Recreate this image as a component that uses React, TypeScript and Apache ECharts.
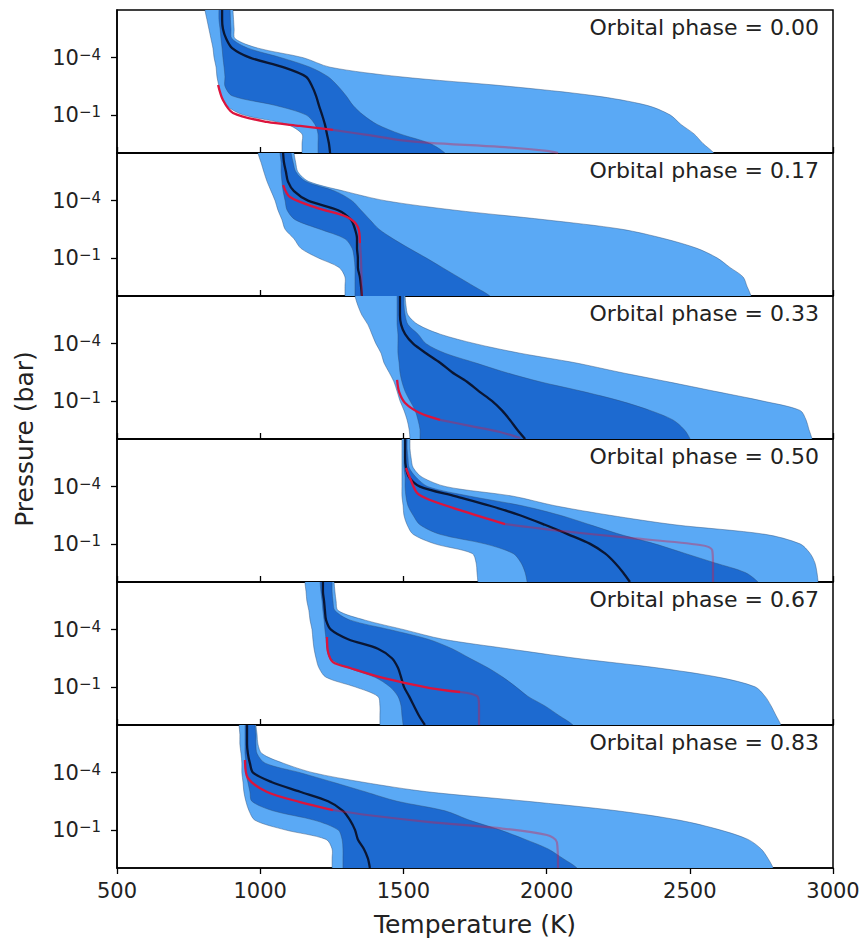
import { useEffect, useRef } from 'react';
import * as echarts from 'echarts';

// log10(pressure / bar) levels shared by the retrieved profile envelopes
const LOGP = [-6.5, -6, -5.5, -5, -4.5, -4, -3.5, -3, -2.5, -2, -1.5, -1, -0.5, 0, 0.5, 1];
const PHASES = ['0.00', '0.17', '0.33', '0.50', '0.67', '0.83'];
const Y_TICKS = [-4, -1];

// Phase 0.00 (temperatures in K at LOGP levels)
const P1_LO2 = [807, 814, 821, 828, 835, 839, 846, 849, 856, 863, 881, 940, 1094, 1146, 1146, 1146];
const P1_LO1 = [856, 856, 860, 863, 867, 870, 874, 877, 877, 902, 1052, 1160, 1191, 1202, 1202, 1202];
const P1_MED = [867, 867, 870, 881, 902, 964, 1080, 1160, 1181, 1195, 1205, 1216, 1226, 1233, 1240, 1244];
const P1_HI1 = [895, 896, 898, 901, 957, 1073, 1174, 1237, 1272, 1300, 1324, 1359, 1408, 1488, 1593, 1645];
const P1_HI2 = [905, 907, 909, 912, 992, 1150, 1244, 1488, 1865, 2169, 2350, 2431, 2469, 2515, 2546, 2584];
const P1_RED_T = [853, 870, 905, 1024, 1139, 1254, 1373, 1488, 1593, 1837, 2001, 2040];
const P1_RED_P = [-2.57, -1.78, -1.1, -0.63, -0.42, -0.21, 0.05, 0.32, 0.47, 0.68, 0.89, 1.0];
const P1_RED_SPLIT = 5;

// Phase 0.17
const P2_LO2 = [992, 1003, 1013, 1024, 1038, 1052, 1062, 1076, 1087, 1118, 1142, 1202, 1275, 1296, 1296, 1296];
const P2_LO1 = [1069, 1073, 1073, 1076, 1080, 1087, 1094, 1122, 1209, 1296, 1321, 1328, 1331, 1331, 1331, 1331];
const P2_MED = [1080, 1083, 1090, 1097, 1118, 1167, 1272, 1317, 1331, 1338, 1338, 1341, 1341, 1348, 1352, 1355];
const P2_HI1 = [1108, 1115, 1125, 1160, 1261, 1320, 1352, 1383, 1415, 1464, 1520, 1579, 1635, 1691, 1747, 1802];
const P2_HI2 = [1118, 1124, 1132, 1170, 1293, 1436, 1680, 1994, 2263, 2413, 2525, 2595, 2640, 2686, 2700, 2714];
const P2_RED_T = [1080, 1104, 1198, 1303, 1341, 1348, 1352, 1355];
const P2_RED_P = [-4.82, -4.19, -3.62, -3.14, -2.62, -1.78, -0.89, 1.0];
const P2_RED_SPLIT = 5;

// Phase 0.33
const P3_LO2 = [1331, 1341, 1355, 1376, 1390, 1404, 1422, 1432, 1450, 1467, 1478, 1488, 1502, 1513, 1520, 1523];
const P3_LO1 = [1478, 1478, 1478, 1478, 1481, 1481, 1481, 1485, 1488, 1495, 1506, 1523, 1541, 1551, 1558, 1558];
const P3_MED = [1488, 1488, 1488, 1492, 1506, 1534, 1579, 1628, 1670, 1722, 1764, 1809, 1844, 1872, 1897, 1925];
const P3_HI1 = [1502, 1502, 1506, 1516, 1551, 1579, 1645, 1750, 1855, 1977, 2124, 2256, 2361, 2441, 2480, 2501];
const P3_HI2 = [1506, 1509, 1516, 1551, 1628, 1750, 1907, 2099, 2256, 2424, 2588, 2752, 2885, 2906, 2916, 2927];
const P3_RED_T = [1478, 1485, 1506, 1558, 1628, 1732, 1837, 1907];
const P3_RED_P = [-2.1, -1.47, -0.89, -0.36, 0.0, 0.31, 0.63, 0.95];
const P3_RED_SPLIT = 4;

// Phase 0.50
const P4_LO2 = [1495, 1495, 1495, 1495, 1495, 1495, 1495, 1499, 1502, 1513, 1534, 1610, 1740, 1754, 1757, 1760];
const P4_LO1 = [1502, 1502, 1502, 1502, 1506, 1506, 1509, 1516, 1534, 1558, 1628, 1785, 1883, 1911, 1925, 1932];
const P4_MED = [1506, 1506, 1506, 1509, 1520, 1558, 1680, 1802, 1907, 1994, 2075, 2152, 2204, 2239, 2267, 2291];
const P4_HI1 = [1513, 1513, 1516, 1520, 1544, 1586, 1732, 1914, 2047, 2152, 2256, 2378, 2483, 2588, 2693, 2738];
const P4_HI2 = [1523, 1523, 1527, 1534, 1565, 1649, 1883, 2029, 2221, 2448, 2763, 2885, 2920, 2937, 2944, 2948];
const P4_RED_T = [1509, 1523, 1548, 1593, 1708, 1855, 2047, 2291, 2536, 2578, 2581, 2581];
const P4_RED_P = [-4.98, -4.45, -3.67, -3.3, -2.72, -2.04, -1.68, -1.31, -0.94, -0.68, 0.11, 1.0];
const P4_RED_SPLIT = 5;

// Phase 0.67
const P5_LO2 = [1156, 1160, 1163, 1170, 1174, 1181, 1184, 1188, 1195, 1205, 1230, 1331, 1411, 1418, 1418, 1418];
const P5_LO1 = [1209, 1212, 1216, 1219, 1223, 1226, 1230, 1233, 1244, 1307, 1401, 1453, 1481, 1492, 1495, 1499];
const P5_MED = [1219, 1219, 1223, 1226, 1230, 1247, 1307, 1411, 1460, 1481, 1492, 1502, 1520, 1537, 1554, 1575];
const P5_HI1 = [1251, 1251, 1254, 1261, 1314, 1453, 1586, 1670, 1732, 1795, 1848, 1893, 1935, 1994, 2043, 2092];
const P5_HI2 = [1258, 1261, 1265, 1272, 1366, 1502, 1638, 1865, 2103, 2385, 2602, 2728, 2763, 2784, 2801, 2818];
const P5_RED_T = [1233, 1237, 1254, 1314, 1429, 1593, 1698, 1757, 1764, 1764];
const P5_RED_P = [-3.62, -2.83, -2.3, -1.99, -1.47, -0.94, -0.73, -0.52, -0.05, 1.0];
const P5_RED_SPLIT = 6;

// Phase 0.83
const P6_LO2 = [926, 929, 929, 933, 936, 936, 940, 943, 950, 961, 982, 1087, 1230, 1251, 1251, 1251];
const P6_LO1 = [947, 947, 947, 947, 950, 950, 957, 964, 971, 1045, 1191, 1272, 1286, 1289, 1289, 1289];
const P6_MED = [954, 954, 954, 957, 964, 975, 1041, 1139, 1237, 1289, 1314, 1331, 1341, 1362, 1376, 1383];
const P6_HI1 = [982, 985, 985, 989, 1017, 1139, 1254, 1366, 1478, 1645, 1732, 1837, 1925, 2005, 2057, 2106];
const P6_HI2 = [985, 989, 992, 1006, 1080, 1184, 1359, 1582, 1932, 2246, 2466, 2605, 2703, 2749, 2773, 2791];
const P6_RED_T = [947, 957, 1024, 1139, 1254, 1373, 1593, 1827, 2001, 2036, 2040];
const P6_RED_P = [-4.66, -3.72, -2.99, -2.46, -2.04, -1.78, -1.41, -1.1, -0.73, -0.36, 1.0];
const P6_RED_SPLIT = 4;

const PANELS = [
  { lo2: P1_LO2, lo1: P1_LO1, med: P1_MED, hi1: P1_HI1, hi2: P1_HI2, redT: P1_RED_T, redP: P1_RED_P, split: P1_RED_SPLIT },
  { lo2: P2_LO2, lo1: P2_LO1, med: P2_MED, hi1: P2_HI1, hi2: P2_HI2, redT: P2_RED_T, redP: P2_RED_P, split: P2_RED_SPLIT },
  { lo2: P3_LO2, lo1: P3_LO1, med: P3_MED, hi1: P3_HI1, hi2: P3_HI2, redT: P3_RED_T, redP: P3_RED_P, split: P3_RED_SPLIT },
  { lo2: P4_LO2, lo1: P4_LO1, med: P4_MED, hi1: P4_HI1, hi2: P4_HI2, redT: P4_RED_T, redP: P4_RED_P, split: P4_RED_SPLIT },
  { lo2: P5_LO2, lo1: P5_LO1, med: P5_MED, hi1: P5_HI1, hi2: P5_HI2, redT: P5_RED_T, redP: P5_RED_P, split: P5_RED_SPLIT },
  { lo2: P6_LO2, lo1: P6_LO1, med: P6_MED, hi1: P6_HI1, hi2: P6_HI2, redT: P6_RED_T, redP: P6_RED_P, split: P6_RED_SPLIT },
];

const FONT = 'DejaVu Sans';
const LEFT = 117;
const WIDTH = 716;
const TOP0 = 10;
const PANEL_H = 143;
const LIGHT = '#5aa9f5';
const DARK = '#1d6ad0';
const EDGE = 'rgba(45,75,115,0.55)';
const MED_COLOR = '#0a1633';
const RED = '#dc143c';
const RED_FADED = 'rgba(220,20,60,0.38)';
const EXT = 0.2;

function bandSeries(i: number, upper: number[], lower: number[], color: string) {
  return {
    type: 'custom',
    xAxisIndex: i,
    yAxisIndex: i,
    clip: true,
    silent: true,
    data: [0],
    renderItem: (_params: any, api: any) => {
      const n = LOGP.length;
      const pts: number[][] = [];
      pts.push(api.coord([upper[0], LOGP[0] - EXT]));
      for (let k = 0; k < n; k++) pts.push(api.coord([upper[k], LOGP[k]]));
      pts.push(api.coord([upper[n - 1], LOGP[n - 1] + EXT]));
      pts.push(api.coord([lower[n - 1], LOGP[n - 1] + EXT]));
      for (let k = n - 1; k >= 0; k--) pts.push(api.coord([lower[k], LOGP[k]]));
      pts.push(api.coord([lower[0], LOGP[0] - EXT]));
      return {
        type: 'polygon',
        shape: { points: pts, smooth: 0.3 },
        style: { fill: color, stroke: EDGE, lineWidth: 0.8 },
      };
    },
  };
}

function lineSeries(i: number, data: number[][], color: string, width: number) {
  return {
    type: 'line',
    xAxisIndex: i,
    yAxisIndex: i,
    data,
    showSymbol: false,
    symbol: 'none',
    smooth: 0.3,
    clip: true,
    silent: true,
    lineStyle: { color, width },
  };
}

function buildOption() {
  const n = PANELS.length;
  const grid = PANELS.map((_, i) => ({
    left: LEFT,
    top: TOP0 + i * PANEL_H,
    width: WIDTH,
    height: PANEL_H,
    show: true,
    borderColor: '#000',
    borderWidth: 1.5,
    backgroundColor: 'transparent',
    containLabel: false,
    outerBoundsMode: 'none',
  }));
  const xAxis = PANELS.map((_, i) => {
    const last = i === n - 1;
    return {
      type: 'value',
      gridIndex: i,
      min: 500,
      max: 3000,
      interval: 500,
      axisLine: { show: true, onZero: false, lineStyle: { color: '#000', width: 1.5 } },
      axisTick: { show: true, inside: !last, length: 6, lineStyle: { color: '#000', width: 1.3 } },
      axisLabel: {
        show: last,
        fontSize: 21,
        color: '#222',
        margin: 12,
        fontFamily: FONT,
        formatter: (v: number) => String(v),
      },
      splitLine: { show: false },
    };
  });
  const yAxis = PANELS.map((_, i) => ({
    type: 'value',
    gridIndex: i,
    min: -6.5,
    max: 1,
    inverse: true,
    axisLine: { show: true, onZero: false, lineStyle: { color: '#000', width: 1.5 } },
    axisTick: { show: true, length: 6, customValues: Y_TICKS, lineStyle: { color: '#000', width: 1.3 } },
    axisLabel: {
      show: true,
      customValues: Y_TICKS,
      margin: 16,
      formatter: (v: number) => `{b|10}{s|\u2212${Math.abs(v)}}`,
      rich: {
        b: { fontSize: 21, color: '#222', fontFamily: FONT },
        s: { fontSize: 15, color: '#222', fontFamily: FONT, verticalAlign: 'top' },
      },
    },
    splitLine: { show: false },
  }));

  const series: any[] = [];
  PANELS.forEach((p, i) => {
    series.push(bandSeries(i, p.hi2, p.lo2, LIGHT));
    series.push(bandSeries(i, p.hi1, p.lo1, DARK));
    series.push(lineSeries(i, p.med.map((t, k) => [t, LOGP[k]]), MED_COLOR, 2.3));
    const red = p.redT.map((t, k) => [t, p.redP[k]]);
    series.push(lineSeries(i, red.slice(p.split), RED_FADED, 2.2));
    series.push(lineSeries(i, red.slice(0, p.split + 1), RED, 2.3));
  });

  const graphic: any[] = PHASES.map((ph, i) => ({
    type: 'text',
    z: 100,
    x: 819,
    y: TOP0 + i * PANEL_H + 17.5,
    style: {
      text: `Orbital phase = ${ph}`,
      fontSize: 22,
      fontFamily: FONT,
      fill: '#222',
      align: 'right',
      verticalAlign: 'middle',
    },
  }));
  graphic.push({
    type: 'text',
    z: 100,
    x: LEFT + WIDTH / 2,
    y: 924,
    style: { text: 'Temperature (K)', fontSize: 25, fontFamily: FONT, fill: '#222', align: 'center', verticalAlign: 'middle' },
  });
  graphic.push({
    type: 'text',
    z: 100,
    x: 24,
    y: TOP0 + (PANEL_H * n) / 2,
    rotation: Math.PI / 2,
    style: { text: 'Pressure (bar)', fontSize: 25, fontFamily: FONT, fill: '#222', align: 'center', verticalAlign: 'middle' },
  });

  return {
    animation: false,
    backgroundColor: '#fff',
    textStyle: { fontFamily: FONT },
    grid,
    xAxis,
    yAxis,
    series,
    graphic,
  };
}

export default function App() {
  const ref = useRef<HTMLDivElement>(null);
  useEffect(() => {
    if (!ref.current) return;
    const chart = echarts.init(ref.current, undefined, { renderer: 'svg' });
    chart.setOption(buildOption() as any);
    return () => chart.dispose();
  }, []);
  return (
    <div
      ref={ref}
      style={{ position: 'absolute', left: 0, top: 0, width: 863, height: 939, background: '#fff' }}
    />
  );
}
